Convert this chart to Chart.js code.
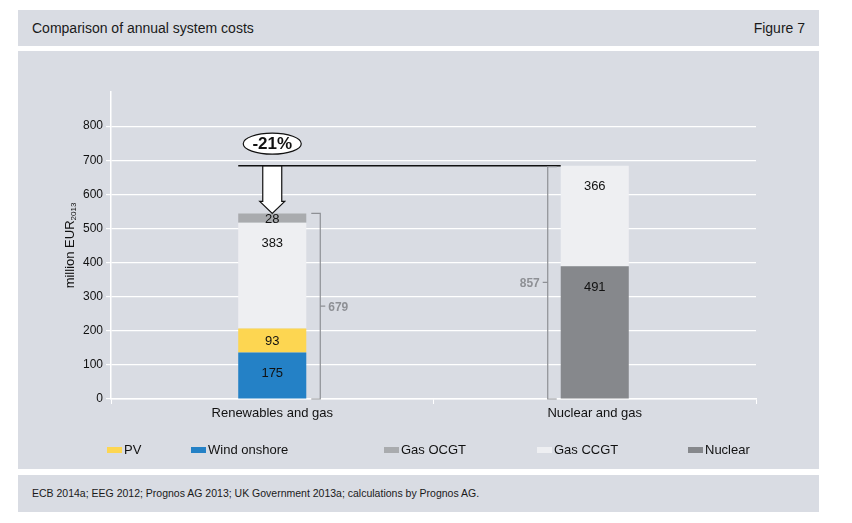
<!DOCTYPE html>
<html>
<head>
<meta charset="utf-8">
<script src="https://cdn.jsdelivr.net/npm/chart.js@4"></script>
<style>
  body { margin: 0; background: #fff; font-family: "Liberation Sans", Arial, sans-serif; color: #1a1a1a; }
  .box { position: absolute; left: 18px; width: 801px; background: #d9dce3; }
  #head { top: 10px; height: 36px; font-size: 14px; }
  #head .t { position: absolute; left: 14px; top: 10px; }
  #head .f { position: absolute; right: 14px; top: 10px; }
  #panel { top: 51px; height: 418px; }
  #foot { top: 475px; height: 37px; font-size: 10.5px; }
  #foot span { position: absolute; left: 14px; top: 12px; }
</style>
</head>
<body>
<div class="box" id="head"><span class="t">Comparison of annual system costs</span><span class="f">Figure 7</span></div>
<div class="box" id="panel"><canvas id="myChart" width="801" height="418"></canvas></div>
<div class="box" id="foot"><span>ECB 2014a; EEG 2012; Prognos AG 2013; UK Government 2013a; calculations by Prognos AG.</span></div>
<script>
// categories and bar heights
const categories = ["Renewables and gas", "Nuclear and gas"];
const windValues = [136, 0];
const pvValues = [71, 0];
const nuclearValues = [0, 389];
const ccgtValues = [310, 295];
const ocgtValues = [27, 0];

// numbers printed on the segments / brackets
const windLabels = ["175", ""];
const pvLabels = ["93", ""];
const nuclearLabels = ["", "491"];
const ccgtLabels = ["383", "366"];
const ocgtLabels = ["28", ""];
const totalLabels = ["679", "857"];
const reductionLabel = "-21%";

const yTicks = [0, 100, 200, 300, 400, 500, 600, 700, 800];

const legendItems = ["PV", "Wind onshore", "Gas OCGT", "Gas CCGT", "Nuclear"];
const legendColors = ["#fdd651", "#2481c6", "#a9abae", "#eeeff2", "#86888c"];
const legendX = [89, 173, 366, 519, 670]; // canvas x of each legend box

const font = '"Liberation Sans", Arial, sans-serif';

const totals = categories.map((c, i) =>
  windValues[i] + pvValues[i] + nuclearValues[i] + ccgtValues[i] + ocgtValues[i]);

const annotate = {
  id: "annotate",
  afterDatasetsDraw(chart) {
    const ctx = chart.ctx;
    const y = chart.scales.y;
    const base = y.getPixelForValue(0);
    ctx.save();

    // segment labels
    ctx.font = "13px " + font;
    ctx.fillStyle = "#111";
    ctx.textAlign = "center";
    ctx.textBaseline = "middle";
    chart.data.datasets.forEach((ds, i) => {
      chart.getDatasetMeta(i).data.forEach((bar, j) => {
        const txt = ds.segLabels[j];
        if (!txt) return;
        const ty = Math.min((bar.y + bar.base) / 2, bar.y + 20);
        ctx.fillText(txt, bar.x, ty + 1);
      });
    });

    const ref = chart.getDatasetMeta(3).data; // gas ccgt, present in both bars
    const b0 = ref[0], b1 = ref[1];
    const top0 = y.getPixelForValue(totals[0]);
    const top1 = y.getPixelForValue(totals[1]);

    // arrow
    const cx = b0.x;
    const headTop = top0 - 12;
    ctx.beginPath();
    ctx.moveTo(cx - 9.5, top1);
    ctx.lineTo(cx - 9.5, headTop);
    ctx.lineTo(cx - 12.5, headTop);
    ctx.lineTo(cx, top0);
    ctx.lineTo(cx + 12.5, headTop);
    ctx.lineTo(cx + 9.5, headTop);
    ctx.lineTo(cx + 9.5, top1);
    ctx.closePath();
    ctx.fillStyle = "#fff";
    ctx.fill();
    ctx.strokeStyle = "#111";
    ctx.lineWidth = 1.2;
    ctx.stroke();

    // reference line at nuclear total
    ctx.beginPath();
    ctx.moveTo(b0.x - b0.width / 2, top1);
    ctx.lineTo(b1.x - b1.width / 2, top1);
    ctx.lineWidth = 1.5;
    ctx.stroke();

    // ellipse with reduction
    ctx.beginPath();
    ctx.ellipse(cx, top1 - 22, 29, 10.5, 0, 0, Math.PI * 2);
    ctx.fillStyle = "#fff";
    ctx.fill();
    ctx.lineWidth = 1.2;
    ctx.stroke();
    ctx.fillStyle = "#111";
    ctx.font = "bold 17px " + font;
    ctx.fillText(reductionLabel, cx, top1 - 21);

    // brackets
    ctx.strokeStyle = "#8e9095";
    ctx.fillStyle = "#8e9095";
    ctx.lineWidth = 1.2;
    ctx.font = "bold 12px " + font;
    const bx0 = b0.x + b0.width / 2 + 14;
    ctx.beginPath();
    ctx.moveTo(bx0 - 9, top0); ctx.lineTo(bx0, top0); ctx.lineTo(bx0, base); ctx.lineTo(bx0 - 9, base);
    ctx.moveTo(bx0, (top0 + base) / 2); ctx.lineTo(bx0 + 5, (top0 + base) / 2);
    ctx.stroke();
    ctx.textAlign = "left";
    ctx.fillText(totalLabels[0], bx0 + 8, (top0 + base) / 2 + 1);

    const bx1 = b1.x - b1.width / 2 - 13;
    ctx.beginPath();
    ctx.moveTo(bx1 + 9, top1 + 1); ctx.lineTo(bx1, top1 + 1); ctx.lineTo(bx1, base); ctx.lineTo(bx1 + 9, base);
    ctx.moveTo(bx1, (top1 + base) / 2); ctx.lineTo(bx1 - 5, (top1 + base) / 2);
    ctx.stroke();
    ctx.textAlign = "right";
    ctx.fillText(totalLabels[1], bx1 - 8, (top1 + base) / 2 + 1);

    // y axis title with subscript
    ctx.save();
    ctx.translate(52, (y.top + y.bottom) / 2);
    ctx.rotate(-Math.PI / 2);
    ctx.fillStyle = "#111";
    ctx.textAlign = "left";
    ctx.font = "13px " + font;
    const main = "million EUR";
    const wMain = ctx.measureText(main).width;
    ctx.font = "8px " + font;
    const wSub = ctx.measureText("2013").width;
    const startX = -(wMain + wSub) / 2;
    ctx.font = "13px " + font;
    ctx.fillText(main, startX, 0);
    ctx.font = "8px " + font;
    ctx.fillText("2013", startX + wMain, 4);
    ctx.restore();

    // legend
    ctx.textAlign = "left";
    ctx.font = "13px " + font;
    legendItems.forEach((name, i) => {
      ctx.fillStyle = legendColors[i];
      ctx.fillRect(legendX[i], 396, 15, 6);
      ctx.fillStyle = "#111";
      ctx.fillText(name, legendX[i] + 17, 399);
    });

    ctx.restore();
  }
};

const ctx = document.getElementById("myChart").getContext("2d");

new Chart(ctx, {
  type: "bar",
  data: {
    labels: categories,
    datasets: [
      { label: "Wind onshore", data: windValues, backgroundColor: "#2481c6", segLabels: windLabels },
      { label: "PV", data: pvValues, backgroundColor: "#fdd651", segLabels: pvLabels },
      { label: "Nuclear", data: nuclearValues, backgroundColor: "#86888c", segLabels: nuclearLabels },
      { label: "Gas CCGT", data: ccgtValues, backgroundColor: "#eeeff2", segLabels: ccgtLabels },
      { label: "Gas OCGT", data: ocgtValues, backgroundColor: "#a9abae", segLabels: ocgtLabels }
    ]
  },
  options: {
    responsive: false,
    animation: false,
    layout: { padding: { left: 0, top: 41, right: 63, bottom: 0 } },
    datasets: { bar: { barPercentage: 0.211, categoryPercentage: 1 } },
    plugins: {
      legend: { display: false },
      tooltip: { enabled: false }
    },
    scales: {
      x: {
        stacked: true,
        afterFit: s => { s.height = 70; },
        border: { color: "#fff", width: 1.5 },
        grid: { offset: true, drawOnChartArea: false, color: "#fff", tickLength: 5 },
        ticks: { color: "#111", font: { family: font, size: 13 }, padding: 2 }
      },
      y: {
        stacked: true,
        min: 0,
        max: 900,
        afterFit: s => { s.width = 93; },
        afterBuildTicks: s => { s.ticks = yTicks.concat([900]).map(v => ({ value: v })); },
        border: { color: "#fff", width: 1.5 },
        grid: {
          color: c => (c.tick && c.tick.value === 900 ? "rgba(0,0,0,0)" : "#fff"),
          lineWidth: 1.2,
          tickLength: 5
        },
        ticks: {
          color: "#111",
          font: { family: font, size: 12 },
          padding: 3,
          callback: v => (yTicks.includes(v) ? v : "")
        }
      }
    }
  },
  plugins: [annotate]
});
</script>
</body>
</html>
